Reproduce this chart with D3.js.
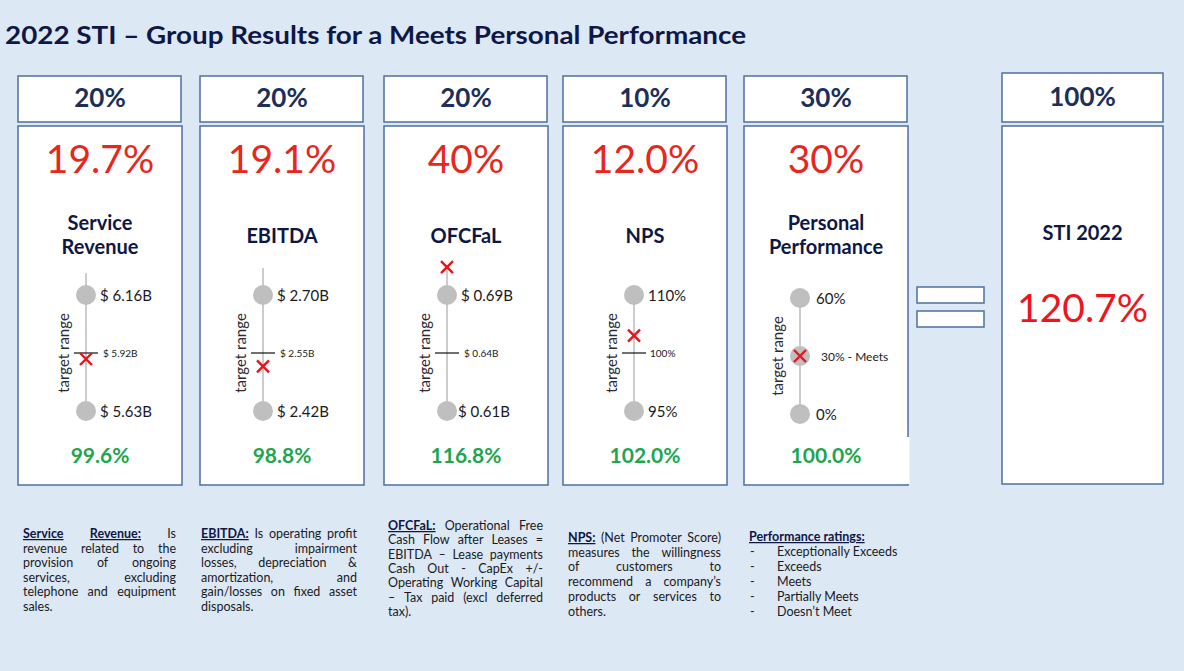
<!DOCTYPE html>
<html><head><meta charset="utf-8">
<script src="https://cdn.jsdelivr.net/npm/d3@7"></script>
<style>
html,body{margin:0;padding:0;background:#dde8f5;}
svg{display:block;font-family:Lato,"Open Sans",sans-serif;}
</style></head>
<body>
<svg id="chart" width="1184" height="671"></svg>
<script>
// ---------------- DATA ----------------
const title = "2022 STI – Group Results for a Meets Personal Performance";
const categories = [["Service","Revenue"],["EBITDA"],["OFCFaL"],["NPS"],["Personal","Performance"]];
const weights = [20, 20, 20, 10, 30];
const totalWeight = 100;
const weightedScores = [19.7, 19.1, 40, 12.0, 30];
const scoreDecimals = [1, 1, 0, 1, 0];
const achievement = [99.6, 98.8, 116.8, 102.0, 100.0];
const rangeLow = [5.63, 2.42, 0.61, 95, 0];
const rangeTarget = [5.92, 2.55, 0.64, 100, 30];
const rangeHigh = [6.16, 2.70, 0.69, 110, 60];
const actualValues = [5.89, 2.52, 0.714, 103, 30];
const stemMax = [6.25, 2.77, null, null, null];
const unitKind = ["B", "B", "B", "pct", "rating"];
const totalLabel = "STI 2022";
const totalScore = 120.7;
const axisLabel = "target range";

const notes = [
  {lines:[["*Service","*Revenue:","Is"],["revenue","related","to","the"],["provision","of","ongoing"],["services,","excluding"],["telephone","and","equipment"],["sales."]]},
  {lines:[["*EBITDA:","Is","operating","profit"],["excluding","impairment"],["losses,","depreciation","&"],["amortization,","and"],["gain/losses","on","fixed","asset"],["disposals."]]},
  {lines:[["*OFCFaL:","Operational","Free"],["Cash","Flow","after","Leases","="],["EBITDA","–","Lease","payments"],["Cash","Out","-","CapEx","+/-"],["Operating","Working","Capital"],["–","Tax","paid","(excl","deferred"],["tax)."]]},
  {lines:[["*NPS:","(Net","Promoter","Score)"],["measures","the","willingness"],["of","customers","to"],["recommend","a","company’s"],["products","or","services","to"],["others."]]}
];
const ratingsTitle = "Performance ratings:";
const ratings = ["Exceptionally Exceeds","Exceeds","Meets","Partially Meets","Doesn’t Meet"];

// ---------------- LAYOUT ----------------
const panelX = [18, 200, 384, 563, 744];
const panelW = 164;
const stemOffset = [-14, -19, -19, -11, -26];
const panelYShift = [0, 0, 0, 0, 3];
const noteX = [[23,176],[201,357],[388,543],[568,721]];
const noteY0 = [538, 538, 530, 542];
const noteLH = [14.5, 14.5, 14.3, 14.7];

const C = {
  border:"#4f6f9f", navy:"#1b2f58", dark:"#0e1745", red:"#e8261c",
  green:"#1da64f", gray:"#bfbfbf", stem:"#cccccc", text:"#1a1a24"
};

const svg = d3.select("#chart");
svg.append("rect").attr("width",1184).attr("height",671).attr("fill","#dde8f5");

svg.append("text").attr("x",5).attr("y",44).attr("font-size",25).attr("font-weight",700)
  .attr("textLength",741).attr("lengthAdjust","spacingAndGlyphs")
  .attr("fill",C.dark).text(title);

function fmtVal(i, v){
  if(unitKind[i]==="B") return "$ " + d3.format(".2f")(v) + "B";
  return d3.format("d")(v) + "%";
}

categories.forEach((cat,i)=>{
  const x0 = panelX[i], cx = x0 + panelW/2;
  const g = svg.append("g");
  // header box
  g.append("rect").attr("x",x0).attr("y",76).attr("width",panelW-1).attr("height",46)
    .attr("fill","#fff").attr("stroke",C.border).attr("stroke-width",1.5);
  g.append("text").attr("x",cx).attr("y",107).attr("text-anchor","middle")
    .attr("font-size",26).attr("font-weight",700).attr("fill",C.navy).text(weights[i]+"%");
  // main box
  g.append("rect").attr("x",x0).attr("y",126).attr("width",panelW).attr("height",359)
    .attr("fill","#fff").attr("stroke",C.border).attr("stroke-width",1.5);
  if(i===4){
    g.append("rect").attr("x",x0+panelW-2).attr("y",437).attr("width",3.5).attr("height",47).attr("fill","#fff");
  }
  g.append("text").attr("x",cx).attr("y",173).attr("text-anchor","middle")
    .attr("font-size",39).attr("fill",C.red).text(d3.format("."+scoreDecimals[i]+"f")(weightedScores[i])+"%");
  // name
  const nm = g.append("text").attr("text-anchor","middle").attr("font-size",20)
    .attr("font-weight",700).attr("fill",C.dark);
  const nameY = cat.length===2 ? 230 : 243;
  cat.forEach((t,k)=> nm.append("tspan").attr("x",cx).attr("y",nameY+k*24).text(t));

  // range scale
  const dy = panelYShift[i];
  const y = d3.scaleLinear().domain([rangeLow[i], rangeTarget[i], rangeHigh[i]])
    .range([411+dy, 353+dy, 295+dy]);
  const sx = cx + stemOffset[i];
  let topV = rangeHigh[i];
  if(stemMax[i]!==null) topV = Math.max(topV, stemMax[i]);
  topV = Math.max(topV, actualValues[i]);
  g.append("line").attr("x1",sx).attr("x2",sx).attr("y1",y(topV)).attr("y2",y(rangeLow[i]))
    .attr("stroke",C.stem).attr("stroke-width",2);
  const ends = (unitKind[i]==="rating") ? [rangeLow[i], rangeTarget[i], rangeHigh[i]] : [rangeLow[i], rangeHigh[i]];
  g.selectAll("circle").data(ends).join("circle").attr("cx",sx).attr("cy",d=>y(d)).attr("r",10)
    .attr("fill",C.gray);
  if(unitKind[i]!=="rating"){
    g.append("line").attr("x1",sx-12).attr("x2",sx+12).attr("y1",y(rangeTarget[i])).attr("y2",y(rangeTarget[i]))
      .attr("stroke","#111").attr("stroke-width",1.2);
    g.append("text").attr("x",sx+(unitKind[i]==="pct"?16:17)).attr("y",y(rangeTarget[i])+3.5)
      .attr("font-size",10).attr("fill",C.text).text(fmtVal(i,rangeTarget[i]));
  } else {
    g.append("text").attr("x",sx+21).attr("y",y(rangeTarget[i])+4.5)
      .attr("font-size",12).attr("fill",C.text).text(fmtVal(i,rangeTarget[i])+" - Meets");
  }
  const lblOff = unitKind[i]==="rating" ? 16 : 14;
  g.append("text").attr("x",sx+lblOff).attr("y",y(rangeHigh[i])+5.5).attr("font-size",15)
    .attr("fill",C.text).text(fmtVal(i,rangeHigh[i]));
  g.append("text").attr("x",sx+(i===2?11:lblOff)).attr("y",y(rangeLow[i])+5.5).attr("font-size",15)
    .attr("fill",C.text).text(fmtVal(i,rangeLow[i]));
  // actual marker
  const ay = y(actualValues[i]), s = 6;
  g.append("path").attr("d",`M${sx-s},${ay-s}L${sx+s},${ay+s}M${sx+s},${ay-s}L${sx-s},${ay+s}`)
    .attr("stroke","#e8141c").attr("stroke-width",2.4).attr("fill","none");
  // axis label
  g.append("text").attr("transform",`translate(${sx-17},${353+dy}) rotate(-90)`)
    .attr("text-anchor","middle").attr("font-size",15).attr("fill","#2a2a33").text(axisLabel);
  // achievement
  g.append("text").attr("x",cx).attr("y",463).attr("text-anchor","middle").attr("font-size",21)
    .attr("font-weight",700).attr("fill",C.green).text(d3.format(".1f")(achievement[i])+"%");
});

// equals sign
[287,311].forEach(yy=>{
  svg.append("rect").attr("x",917).attr("y",yy).attr("width",67).attr("height",16)
    .attr("fill","#fff").attr("stroke",C.border).attr("stroke-width",1.5);
});

// total panel
const tx = 1002, tcx = tx + 161/2;
svg.append("rect").attr("x",tx).attr("y",73).attr("width",161).attr("height",49)
  .attr("fill","#fff").attr("stroke",C.border).attr("stroke-width",1.5);
svg.append("text").attr("x",tcx).attr("y",106).attr("text-anchor","middle").attr("font-size",26)
  .attr("font-weight",700).attr("fill",C.navy).text(totalWeight+"%");
svg.append("rect").attr("x",tx).attr("y",126).attr("width",161).attr("height",358)
  .attr("fill","#fff").attr("stroke",C.border).attr("stroke-width",1.5);
svg.append("text").attr("x",tcx).attr("y",240).attr("text-anchor","middle").attr("font-size",20)
  .attr("font-weight",700).attr("fill",C.dark).text(totalLabel);
svg.append("text").attr("x",tcx).attr("y",322).attr("text-anchor","middle").attr("font-size",39)
  .attr("fill","#f0141c").text(d3.format(".1f")(totalScore)+"%");

// footnotes (justified)
const FS = 12.5;
notes.forEach((n,ci)=>{
  const [xl,xr] = noteX[ci];
  n.lines.forEach((words,li)=>{
    const yy = noteY0[ci] + li*noteLH[ci];
    const last = li===n.lines.length-1;
    const nodes = words.map(w=>{
      const head = w.startsWith("*");
      const t = svg.append("text").attr("y",yy).attr("font-size",FS)
        .attr("fill", head ? "#0e1745" : C.text).text(head ? w.slice(1) : w);
      if(head) t.attr("font-weight",700).attr("text-decoration","underline");
      return t;
    });
    const widths = nodes.map(t=>t.node().getComputedTextLength());
    const total = d3.sum(widths);
    const gap = (last || nodes.length===1) ? 3.2 : (xr-xl-total)/(nodes.length-1);
    let x = xl;
    nodes.forEach((t,k)=>{ t.attr("x",x); x += widths[k]+gap; });
  });
});
svg.append("text").attr("x",749).attr("y",541).attr("font-size",FS).attr("font-weight",700)
  .attr("text-decoration","underline").attr("fill","#0e1745").text(ratingsTitle);
ratings.forEach((r,k)=>{
  const yy = 556 + k*15;
  svg.append("text").attr("x",750).attr("y",yy).attr("font-size",FS).attr("fill",C.text).text("-");
  svg.append("text").attr("x",777).attr("y",yy).attr("font-size",FS).attr("fill",C.text).text(r);
});
</script>
</body></html>
